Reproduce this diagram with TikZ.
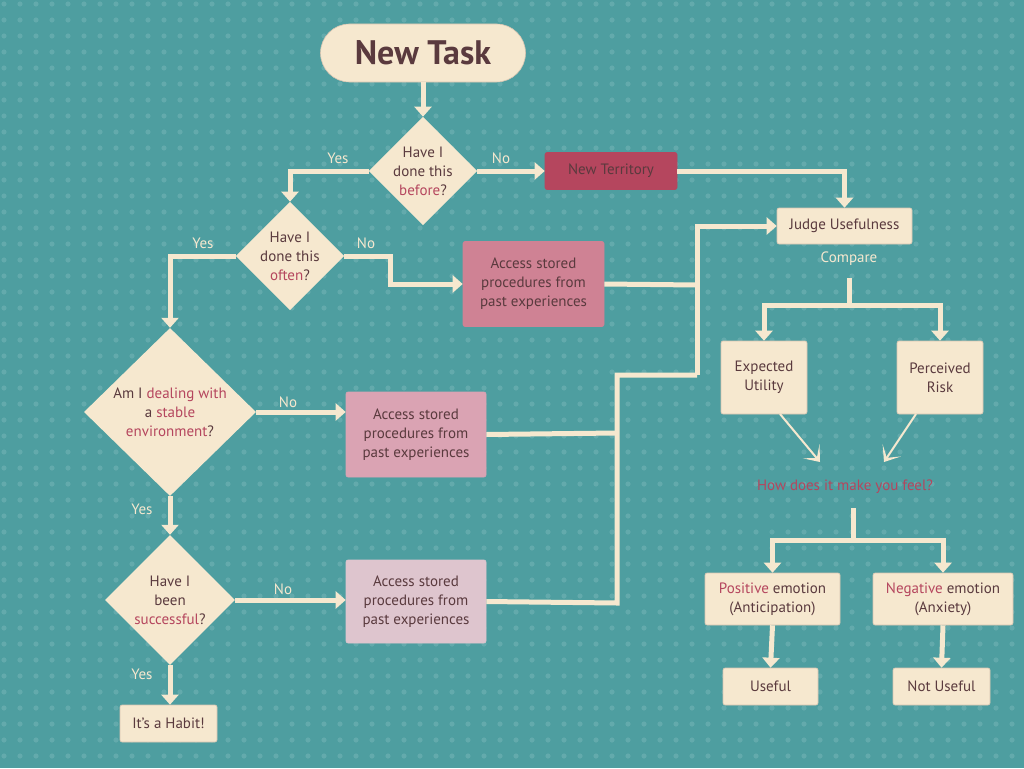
\documentclass[tikz,border=0pt]{standalone}
\usepackage{fontspec}
\setmainfont{PT Sans}
\usetikzlibrary{shapes.geometric,arrows.meta}
\definecolor{bg}{HTML}{4E9EA0}
\definecolor{dot}{HTML}{63AAAC}
\definecolor{cream}{HTML}{F6E8CF}
\definecolor{ink}{HTML}{5A3A3E}
\definecolor{acc}{HTML}{B5465E}
\definecolor{boxA}{HTML}{CF8294}
\definecolor{boxB}{HTML}{DAA3B3}
\definecolor{boxC}{HTML}{DEC5CE}
\newcommand{\hl}[1]{\textcolor{acc}{#1}}
\begin{document}
\begin{tikzpicture}[x=1pt,y=-1pt,
  txt/.style={font=\fontsize{15}{19}\selectfont,text=ink,align=center},
  box/.style={txt,draw=cream!80!ink,line width=0.6pt,fill=cream,rounded corners=2pt,inner sep=0pt},
  dia/.style={txt,diamond,fill=cream,inner sep=0pt,draw=none},
  lab/.style={font=\fontsize{15}{18}\selectfont,text=cream},
  ln/.style={draw=cream,line width=5pt},
  ar/.style={ln,-{Triangle[width=17pt,length=10pt]}},
  thin/.style={draw=cream,line width=2pt,-{Stealth[width=22pt,length=14pt,inset=9pt]}}]
\useasboundingbox (0,0) rectangle (1024,768);
\begin{scope}
\clip (0,0) rectangle (1024,768);
\fill[bg] (0,0) rectangle (1024,768);
\foreach \i in {0,...,63}{\foreach \j in {0,...,47}{\fill[dot] (\i*16+4,\j*16+4) circle (2.6);}}
\end{scope}
% nodes
\node[box,rounded corners=29pt,minimum width=205pt,minimum height=58pt,font=\fontsize{34}{40}\selectfont\bfseries] (task) at (423,53) {New Task};
\node[dia,minimum width=104pt,minimum height=106pt] (d1) at (423,171) {Have I\\done this\\\hl{before}?};
\node[box,fill=acc,draw=acc,minimum width=132pt,minimum height=37pt] (nt) at (611,171) {New Territory};
\node[dia,minimum width=104pt,minimum height=106pt] (d2) at (290,256) {Have I\\done this\\\hl{often}?};
\node[box,fill=boxA,draw=boxA,minimum width=141pt,minimum height=85pt] (a1) at (533.5,284) {Access stored\\procedures from\\past experiences};
\node[dia,minimum width=172pt,minimum height=168pt] (d3) at (170,412) {Am I \hl{dealing with}\\a \hl{stable}\\\hl{environment}?};
\node[box,fill=boxB,draw=boxB,minimum width=140pt,minimum height=85pt] (a2) at (416,434.5) {Access stored\\procedures from\\past experiences};
\node[dia,minimum width=130pt,minimum height=130pt] (d4) at (170,600) {Have I\\been\\\hl{successful}?};
\node[box,fill=boxC,draw=boxC,minimum width=140pt,minimum height=83pt] (a3) at (416,601.5) {Access stored\\procedures from\\past experiences};
\node[box,minimum width=97pt,minimum height=37pt] (hab) at (168.5,723.5) {It's a Habit!};
\node[box,minimum width=135pt,minimum height=36pt] (jud) at (844.5,226) {Judge Usefulness};
\node[lab] (cmp) at (849,259) {Compare};
\node[box,minimum width=86pt,minimum height=73pt] (eu) at (764,377.5) {Expected\\Utility};
\node[box,minimum width=86pt,minimum height=73pt] (pr) at (940,377.5) {Perceived\\Risk};
\node[txt,text=acc] (how) at (845,487) {How does it make you feel?};
\node[box,minimum width=135pt,minimum height=52pt] (pos) at (772.5,599) {\hl{Positive} emotion\\(Anticipation)};
\node[box,minimum width=140pt,minimum height=52pt] (neg) at (943,599) {\hl{Negative} emotion\\(Anxiety)};
\node[box,minimum width=95pt,minimum height=37pt] (use) at (770.5,686.5) {Useful};
\node[box,minimum width=97pt,minimum height=37pt] (nuse) at (941.5,686.5) {Not Useful};
% coordinates
\coordinate (j1) at (697,285);
\coordinate (j2) at (697,375);
\coordinate (j3) at (617,375);
\coordinate (j4) at (617,433);
\coordinate (j5) at (617,603);
\coordinate (c1) at (849,278);
\coordinate (c2) at (849,305);
\coordinate (h1) at (853,508);
\coordinate (h2) at (853,540);
% connectors
\draw[ar] (task.south) -- (d1.north);
\draw[ar] (d1.west) -| (d2.north);
\draw[ar] (d1.east) -- (d1.east -| nt.west);
\draw[ar] (nt.east) -| (jud.north);
\draw[ar] (d2.west) -| (d3.north);
\draw[ar] (d2.east) -- (390,256) |- (a1.west);
\draw[ln] (a1.east) -- (j1);
\draw[ar] (j2) |- (jud.west);
\draw[ln] (a2.east) -- (j4);
\draw[ln] (a3.east) -- (j5) -- (j3) -- (j2);
\draw[ar] (d3.east) -- (d3.east -| a2.west);
\draw[ar] (d3.south) -- (d4.north);
\draw[ar] (d4.east) -- (d4.east -| a3.west);
\draw[ar] (d4.south) -- (d4.south |- hab.north);
\draw[ln] (c1) -- (c2);
\draw[ar] (c2) -| (eu.north);
\draw[ar] (c2) -| (pr.north);
\draw[thin] (780,414) -- (820,462);
\draw[thin] (916,414) -- (884,462);
\draw[ln] (h1) -- (h2);
\draw[ar] (h2) -| (pos.north);
\draw[ar] (h2) -| (neg.north);
\draw[ar] (pos.south) -- (use.north);
\draw[ar] (neg.south) -- (nuse.north);
% labels
\node[lab] at (338,158) {Yes};
\node[lab] at (501,158) {No};
\node[lab] at (203,243) {Yes};
\node[lab] at (366,243) {No};
\node[lab] at (288,402) {No};
\node[lab] at (142,509) {Yes};
\node[lab] at (283,589) {No};
\node[lab] at (142,674) {Yes};
\end{tikzpicture}
\end{document}
